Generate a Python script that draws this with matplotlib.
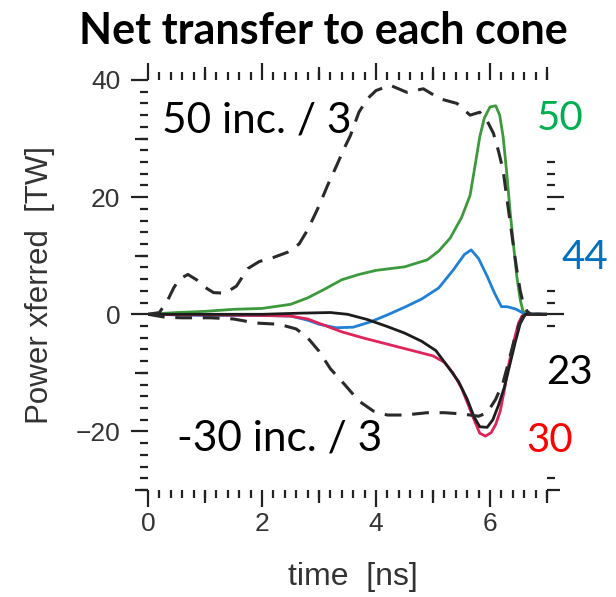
import matplotlib
matplotlib.use("Agg")
import matplotlib.pyplot as plt
from matplotlib.ticker import MultipleLocator, FixedLocator, NullFormatter

# Incident power on the 50-degree cone, divided by 3 (TW)
t_inc50 = [0, 0.2, 0.35, 0.45, 0.55, 0.7, 0.85, 1.0, 1.15, 1.35, 1.55, 1.75, 1.95,
           2.2, 2.45, 2.65, 2.8, 3.0, 3.15, 3.3, 3.45, 3.55, 3.7, 3.85, 4.0, 4.25,
           4.54, 4.83, 5.12, 5.42, 5.65, 5.82, 5.95, 6.06, 6.15, 6.23, 6.3, 6.35,
           6.42, 6.47, 6.53, 6.58, 6.65, 6.72, 7.0]
p_inc50 = [0, 0.3, 2.5, 4.5, 6.0, 6.8, 5.9, 4.6, 3.7, 3.6, 4.8, 7.8, 9.0,
           9.7, 10.6, 12.0, 14.4, 18.5, 22.0, 25.2, 28.5, 30.5, 34.5, 36.8, 38.2, 39.1,
           37.9, 38.5, 36.8, 36.0, 34.0, 34.5, 33.0, 30.9, 27.8, 24.6, 19.5, 16.0,
           11.0, 7.6, 4.0, 2.0, 0.5, 0, 0]

# Incident power on the 30-degree cone, divided by -3 (TW)
t_inc30 = [0, 0.3, 0.6, 1.1, 1.5, 1.9, 2.3, 2.6, 2.8, 3.0, 3.2, 3.45, 3.7, 3.95,
           4.2, 4.5, 4.9, 5.2, 5.5, 5.8, 5.95, 6.1, 6.23, 6.33, 6.42, 6.5, 6.58,
           6.65, 7.0]
p_inc30 = [0, -0.5, -0.6, -0.6, -0.8, -1.5, -1.7, -2.5, -4.0, -6.3, -9.3, -12.0,
           -14.8, -16.5, -17.2, -17.2, -16.8, -16.8, -17.0, -17.4, -16.8, -14.5,
           -11.6, -8.0, -4.6, -2.0, -0.3, 0, 0]

# Net transfer to the 50-degree cone
t_c50 = [0, 0.5, 1.0, 1.5, 2.0, 2.5, 2.8, 3.1, 3.4, 3.7, 4.0, 4.5, 4.9, 5.1, 5.3,
         5.5, 5.65, 5.74, 5.82, 5.9, 6.0, 6.1, 6.17, 6.23, 6.29, 6.35, 6.41, 6.47,
         6.53, 6.58, 6.65, 7.0]
p_c50 = [0, 0.3, 0.5, 0.85, 1.0, 1.7, 2.8, 4.3, 5.9, 6.8, 7.5, 8.1, 9.3, 10.8, 13.0,
         16.5, 20.3, 25.5, 30.3, 33.5, 35.4, 35.6, 34.0, 30.3, 24.5, 17.8, 12.0, 6.5,
         2.5, 0.5, 0, 0]

# Net transfer to the 44-degree cone
t_c44 = [0, 1.0, 2.0, 2.5, 2.8, 3.0, 3.3, 3.6, 3.9, 4.2, 4.5, 4.8, 5.1, 5.35, 5.55,
         5.67, 5.8, 5.95, 6.08, 6.2, 6.3, 6.45, 6.6, 7.0]
p_c44 = [0, -0.2, -0.2, -0.3, -1.0, -1.7, -2.3, -2.2, -1.3, -0.1, 1.2, 2.6, 4.5, 7.5,
         10.2, 11.0, 9.5, 6.5, 3.6, 1.3, 1.3, 0.9, 0.1, 0]

# Net transfer to the 23-degree cone
t_c23 = [0, 1.0, 2.0, 2.7, 3.2, 3.5, 3.85, 4.2, 4.5, 4.8, 5.05, 5.25, 5.45, 5.6,
         5.72, 5.82, 5.95, 6.05, 6.15, 6.25, 6.35, 6.45, 6.53, 6.62, 7.0]
p_c23 = [0, 0, 0, 0.2, 0.3, 0, -0.9, -2.1, -3.2, -4.6, -6.2, -8.8, -11.5, -14.5,
         -17.5, -19.2, -19.3, -18.0, -15.5, -12.5, -8.5, -4.5, -1.6, 0, 0]

# Net transfer to the 30-degree cone
t_c30 = [0, 1.0, 2.0, 2.5, 2.8, 3.1, 3.4, 3.8, 4.4, 5.0, 5.2, 5.35, 5.5, 5.62, 5.72,
         5.82, 5.92, 6.02, 6.1, 6.18, 6.26, 6.33, 6.42, 6.5, 6.56, 6.65, 7.0]
p_c30 = [0, -0.1, -0.2, -0.3, -0.8, -1.9, -3.0, -4.1, -5.6, -7.1, -8.2, -10.0, -12.6,
         -15.5, -18.0, -20.3, -20.8, -20.2, -18.8, -16.5, -12.5, -8.5, -4.5, -1.5,
         -0.3, 0, 0]

LABEL_FONT = "Liberation Sans"
NOTE_FONT = "Lato"
TICK_COLOR = "#222222"
TEXT_GREY = "#333333"

fig = plt.figure(figsize=(6.16, 5.97), dpi=100)
ax = fig.add_axes([0.2403, 0.1792, 0.6477, 0.6868])
ax.set_xlim(0, 7)
ax.set_ylim(-30, 40)

for s in ax.spines.values():
    s.set_visible(False)

# solid net-transfer curves
ax.plot(t_c50, p_c50, color="#3c9a3c", lw=2.0, zorder=3)
ax.plot(t_c44, p_c44, color="#1f80d6", lw=2.0, zorder=3)
ax.plot(t_c30, p_c30, color="#e0245a", lw=2.0, zorder=3)
ax.plot(t_c23, p_c23, color="#1c1c1c", lw=2.0, zorder=3)
# dashed incident-power curves
ax.plot(t_inc50, p_inc50, color="#2a2a2a", lw=2.2, dashes=(5.5, 3.5), zorder=4)
ax.plot(t_inc30, p_inc30, color="#2a2a2a", lw=2.2, dashes=(5.5, 3.5), zorder=4)

# tick marks: long at major, medium at half-major, short at minor
MAJ, MED, MIN = 12, 9.5, 6
TW = 1.6
ax.xaxis.set_major_locator(MultipleLocator(2))
ax.xaxis.set_minor_locator(MultipleLocator(0.2))
ax.yaxis.set_major_locator(MultipleLocator(20))
ax.yaxis.set_minor_locator(MultipleLocator(2))
ax.tick_params(which="both", direction="out", color=TICK_COLOR, width=TW,
               bottom=True, top=True, left=True, right=False)
ax.tick_params(which="major", length=MAJ)
ax.tick_params(which="minor", length=MIN)
ax.tick_params(axis="x", which="major", pad=3.5, labelsize=19, labelcolor=TEXT_GREY)
ax.tick_params(axis="y", which="major", pad=8.0, labelsize=19, labelcolor=TEXT_GREY)
for lab in ax.get_xticklabels() + ax.get_yticklabels():
    lab.set_fontfamily(LABEL_FONT)


def extra_ticks(where, major=None, minor=None, length=MED):
    if where in ("top", "bottom"):
        sec = ax.secondary_xaxis(where)
        axis = sec.xaxis
    else:
        sec = ax.secondary_yaxis(where)
        axis = sec.yaxis
    for s in sec.spines.values():
        s.set_visible(False)
    axis.set_major_locator(FixedLocator(major if major is not None else []))
    axis.set_minor_locator(FixedLocator(minor if minor is not None else []))
    axis.set_major_formatter(NullFormatter())
    axis.set_minor_formatter(NullFormatter())
    sec.tick_params(which="both", direction="out", color=TICK_COLOR, width=TW)
    sec.tick_params(which="major", length=length)
    sec.tick_params(which="minor", length=MIN)
    return sec


# medium ticks at odd nanoseconds and at multiples of 10 TW
extra_ticks("bottom", major=[1, 3, 5, 7])
extra_ticks("top", major=[1, 3, 5, 7])
extra_ticks("left", major=[-30, -10, 10, 30])
# right-hand ticks, visible between the cone labels
extra_ticks("right", major=[0, 20], minor=[26, 24, 22, 18, 4, 2, -2, -28], length=MAJ)
extra_ticks("right", major=[-30])

ax.set_xlabel("time  [ns]", fontsize=23, family=LABEL_FONT, color=TEXT_GREY)
ax.set_ylabel("Power xferred  [TW]", fontsize=22.5, family=LABEL_FONT, color=TEXT_GREY)
ax.xaxis.set_label_coords(0.514, -0.176)
ax.yaxis.set_label_coords(-0.233, 0.5)

ax.text(0.25, 33, "50 inc. / 3", fontsize=30.5, family=NOTE_FONT, va="center",
        ha="left", color="black", zorder=5)
ax.text(0.51, -21.2, "-30 inc. / 3", fontsize=30.5, family=NOTE_FONT, va="center",
        ha="left", color="black", zorder=5)

ax.text(7.23, 33.5, "50", fontsize=29, family=NOTE_FONT, color="#00b050",
        ha="center", va="center", clip_on=False)
ax.text(7.67, 9.7, "44", fontsize=29, family=NOTE_FONT, color="#0070c0",
        ha="center", va="center", clip_on=False)
ax.text(7.40, -10.0, "23", fontsize=29, family=NOTE_FONT, color="black",
        ha="center", va="center", clip_on=False)
ax.text(7.05, -21.6, "30", fontsize=29, family=NOTE_FONT, color="#ff0000",
        ha="center", va="center", clip_on=False)

fig.text(323 / 616, 1 - 31 / 597, "Net transfer to each cone", fontsize=31,
         family=NOTE_FONT, weight="bold", ha="center", va="center")

fig.savefig("out.png", dpi=100, facecolor="white")
